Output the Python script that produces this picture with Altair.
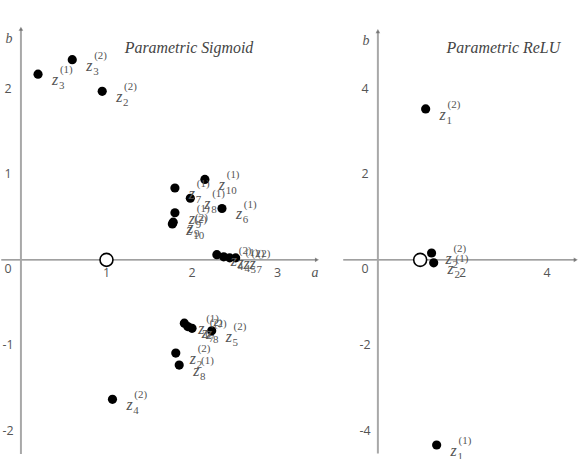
import altair as alt
import pandas as pd

# ---------------- data ----------------
# Parametric Sigmoid panel
sig_a = [0.20, 0.60, 0.95, 2.15, 1.80, 1.98, 2.35, 1.80, 1.78, 1.77,
         2.29, 2.37, 2.44, 2.51, 1.91, 1.95, 2.00, 2.23, 1.81, 1.85, 1.07]
sig_b = [2.17, 2.34, 1.97, 0.94, 0.84, 0.72, 0.60, 0.55, 0.44, 0.42,
         0.06, 0.035, 0.023, 0.023, -0.74, -0.78, -0.80, -0.83, -1.09, -1.23, -1.63]
sig_sub = ["3", "3", "2", "10", "7", "8", "6", "9", "9", "10",
           "4", "4", "5", "7", "6", "7", "8", "5", "2", "8", "4"]
sig_sup = ["1", "2", "2", "1", "1", "1", "1", "1", "2", "2",
           "2", "1", "2", "2", "1", "2", "2", "2", "2", "1", "2"]

# Parametric ReLU panel
relu_a = [1.13, 1.27, 1.32, 1.39]
relu_b = [3.53, 0.16, -0.07, -4.33]
relu_sub = ["1", "2", "2", "1"]
relu_sup = ["2", "2", "1", "1"]

# reference (open) point
ref_a = [1.0]
ref_b = [0.0]

# tick labels
sig_xticks = [1, 2, 3]
sig_yticks = [2, 1, -1, -2]
relu_xticks = [2, 4]
relu_yticks = [4, 2, -2, -4]

# axis extents
sig_xrange = [-0.23, 3.46]
sig_yrange = [-2.27, 2.70]
relu_xrange = [-0.82, 4.68]
relu_yrange = [-4.53, 5.35]

# view domains
sig_xdom = [-0.233, 3.488]
sig_ydom = [-2.314, 3.023]
relu_xdom = [-0.82, 4.71]
relu_ydom = [-4.63, 6.05]

LABEL_FONT = "Liberation Serif"
GRAY = "#555555"


def panel(pa, pb, psub, psup, xticks, yticks, xr, yr, xdom, ydom, w, title, title_x, show_a):
    pts = pd.DataFrame({"a": pa, "b": pb, "sub": psub,
                        "sup": ["(" + s + ")" for s in psup]})
    ref = pd.DataFrame({"a": ref_a, "b": ref_b})
    xt = pd.DataFrame({"a": xticks, "b": [0] * len(xticks),
                       "t": [str(v) for v in xticks]})
    yt = pd.DataFrame({"a": [0] * len(yticks), "b": yticks,
                       "t": [str(v) for v in yticks]})
    zero = pd.DataFrame({"a": [0], "b": [0], "t": ["0"]})
    xaxis = pd.DataFrame({"a": [xr[0]], "a2": [xr[1]], "b": [0]})
    yaxis = pd.DataFrame({"a": [0], "b": [yr[0]], "b2": [yr[1]]})
    xarrow = pd.DataFrame({"a": [xr[1]], "b": [0]})
    yarrow = pd.DataFrame({"a": [0], "b": [yr[1]]})

    X = alt.X("a:Q", scale=alt.Scale(domain=xdom, nice=False, zero=False), axis=None)
    Y = alt.Y("b:Q", scale=alt.Scale(domain=ydom, nice=False, zero=False), axis=None)

    xline = alt.Chart(xaxis).mark_rule(color="#808080", strokeWidth=1.2).encode(
        x=X, x2="a2:Q", y=Y)
    yline = alt.Chart(yaxis).mark_rule(color="#a8a8a8", strokeWidth=2).encode(
        x=X, y=Y, y2="b2:Q")
    xarr = alt.Chart(xarrow).mark_point(shape="triangle-right", filled=True,
                                        color="#606060", size=22).encode(x=X, y=Y)
    yarr = alt.Chart(yarrow).mark_point(shape="triangle-up", filled=True,
                                        color="#606060", size=22).encode(x=X, y=Y)

    xtl = alt.Chart(xt).mark_text(font="Open Sans", fontSize=12.5, color=GRAY,
                                  dy=13, align="center").encode(x=X, y=Y, text="t:N")
    ytl = alt.Chart(yt).mark_text(font="Open Sans", fontSize=12.5, color=GRAY,
                                  dx=-13, align="center").encode(x=X, y=Y, text="t:N")
    ztl = alt.Chart(zero).mark_text(font="Open Sans", fontSize=12.5, color=GRAY,
                                    dx=-13, dy=9, align="center").encode(x=X, y=Y, text="t:N")

    dots = alt.Chart(pts).mark_circle(color="black", opacity=1, size=85).encode(x=X, y=Y)
    refc = alt.Chart(ref).mark_point(shape="circle", filled=True, fill="white",
                                     stroke="black", strokeWidth=1.6, opacity=1,
                                     size=170).encode(x=X, y=Y)

    zl = alt.Chart(pts).mark_text(font=LABEL_FONT, fontStyle="italic", fontSize=16,
                                  color=GRAY, align="left", dx=14, dy=6).encode(
        x=X, y=Y, text=alt.value("z"))
    subl = alt.Chart(pts).mark_text(font=LABEL_FONT, fontSize=11, color=GRAY,
                                    align="left", dx=21, dy=12).encode(x=X, y=Y, text="sub:N")
    supl = alt.Chart(pts).mark_text(font=LABEL_FONT, fontSize=11, color=GRAY,
                                    align="left", dx=22, dy=-4).encode(x=X, y=Y, text="sup:N")

    ttl = alt.Chart(xarrow).mark_text(font=LABEL_FONT, fontStyle="italic", fontSize=16,
                                      color="#444444", align="center").encode(
        x=alt.value(title_x), y=alt.value(47), text=alt.value(title))
    alab = alt.Chart(xarrow).mark_text(font=LABEL_FONT, fontStyle="italic", fontSize=14,
                                       color=GRAY, dy=13, dx=-2, align="center").encode(
        x=X, y=Y, text=alt.value("a"))
    blab = alt.Chart(yarrow).mark_text(font=LABEL_FONT, fontStyle="italic", fontSize=14,
                                       color=GRAY, dx=-12, dy=10, align="center").encode(
        x=X, y=Y, text=alt.value("b"))

    layers = [xline, yline, xarr, yarr, xtl, ytl, ztl, refc, dots, zl, subl, supl, ttl, blab]
    if show_a:
        layers.append(alab)
    return alt.layer(*layers).properties(width=w, height=459)


left = panel(sig_a, sig_b, sig_sub, sig_sup, sig_xticks, sig_yticks,
             sig_xrange, sig_yrange, sig_xdom, sig_ydom, 320, "Parametric Sigmoid", 189, True)
right = panel(relu_a, relu_b, relu_sub, relu_sup, relu_xticks, relu_yticks,
              relu_xrange, relu_yrange, relu_xdom, relu_ydom, 235, "Parametric ReLU", 161, False)

chart = alt.hconcat(left, right, spacing=23).properties(padding=0).configure_view(stroke=None)

chart.save("out.html", embed_options={"renderer": "svg", "actions": False})
